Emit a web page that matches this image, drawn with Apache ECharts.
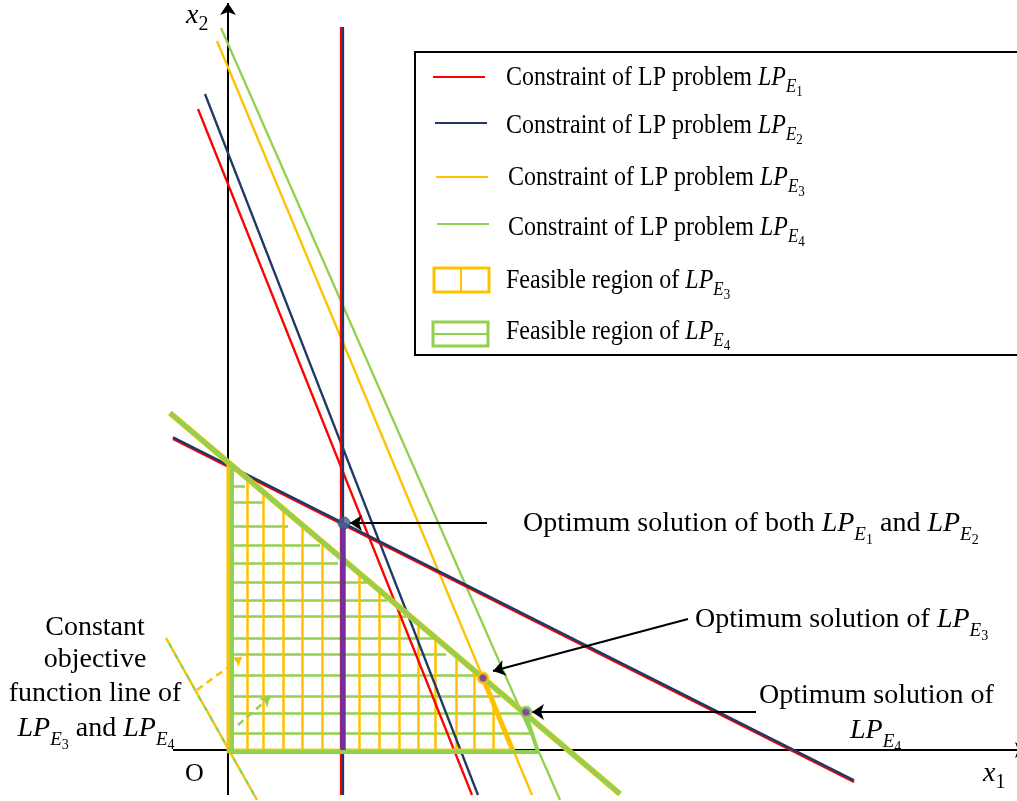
<!DOCTYPE html>
<html><head><meta charset="utf-8">
<script src="https://cdn.jsdelivr.net/npm/echarts@6/dist/echarts.min.js"></script>
<style>html,body{margin:0;padding:0;background:#fff}#c{width:1017px;height:801px}</style>
</head><body><div id="c"></div>
<script>
// ---- data (x1, x2 units; origin O) ----
const xAxisLine = [[-2.75, 0], [39.95, 0]];
const yAxisLine = [[0, -2.25], [0, 37.35]];
const e1Steep = [[-1.5, 32.05], [12.2, -2.25]];
const e2Steep = [[-1.15, 32.8], [12.5, -2.25]];
const e3Steep = [[-0.55, 35.45], [15.2, -2.25]];
const e4Steep = [[-0.35, 36.1], [16.6, -2.5]];
const e1Vertical = [[5.65, 36.15], [5.65, -2.25]];
const e2Vertical = [[5.72, 36.15], [5.72, -2.25]];
const e1Shallow = [[-2.75, 15.55], [31.3, -1.6]];
const e2Shallow = [[-2.75, 15.63], [31.3, -1.52]];
const e34Shallow = [[-2.9, 16.85], [19.6, -2.2]];
const region3Edge = [[12.75, 3.6], [14.25, -0.05], [0.05, -0.05], [0.05, 14.35]];
const region4Edge = [[14.85, 1.9], [15.5, -0.1], [0.2, -0.1], [0.2, 14.2]];
const purpleSeg = [[5.75, 11.35], [5.75, 0]];
const opt12 = [5.8, 11.35];
const opt3 = [12.75, 3.6];
const opt4 = [14.9, 1.9];
const arrow12 = [[12.95, 11.35], [6.1, 11.35]];
const arrow3 = [[23.0, 6.55], [13.25, 3.95]];
const arrow4 = [[26.4, 1.9], [15.2, 1.9]];
const objLine = [[-3.1, 5.6], [1.45, -2.5]];
const dirE3 = [[-1.55, 3.0], [0.7, 4.65]];
const dirE4 = [[0.5, 1.25], [2.1, 2.65]];
// yellow vertical hatch (feasible region of LP_E3)
const hatch3X = [0.95, 1.75, 2.75, 3.7, 4.7, 5.7, 6.55, 7.55, 8.55, 9.5, 10.35, 11.4, 12.3, 13.25];
const hatch3Top = [13.6, 12.9, 12.05, 11.25, 10.45, 9.65, 8.85, 8.0, 7.2, 6.35, 5.65, 4.75, 4.0, 2.4];
// green horizontal hatch (feasible region of LP_E4)
const hatch4Y = [13.2, 12.4, 11.2, 10.25, 9.35, 8.4, 7.5, 6.7, 5.6, 4.8, 3.75, 2.7, 1.85, 0.85];
const hatch4End = [0.85, 1.75, 3.0, 4.6, 5.5, 6.95, 7.95, 9.15, 10.5, 10.9, 12.6, 13.6, 14.95, 15.1];
const hatchStart = 0.25;

// ---- colours ----
const RED = '#FF0000', NAVY = '#203864', YEL = '#FFC000', GRN = '#92D050', PUR = '#7030A0';

function ln(list, color, width, z, extra) {
  extra = extra || {};
  return {
    type: 'lines', coordinateSystem: 'cartesian2d', polyline: list[0].length > 2, silent: true,
    animation: false, clip: false, z: z,
    data: list.map(c => ({ coords: c })),
    lineStyle: { color: color, width: width, opacity: 1, curveness: 0, type: extra.dash || 'solid', dashOffset: extra.dashOffset || 0, cap: 'butt', join: 'round' },
    symbol: extra.symbol || 'none', symbolSize: extra.symbolSize || 10
  };
}

const hatch3 = hatch3X.map((x, i) => [[x, 0], [x, hatch3Top[i]]]);
const hatch4 = hatch4Y.map((y, i) => [[hatchStart, y], [hatch4End[i], y]]);

const series = [
  ln(hatch4, GRN, 2.5, 2),
  ln(hatch3, YEL, 2.5, 3),
  ln([e1Steep], RED, 2.3, 4), ln([e2Steep], NAVY, 2.3, 4),
  ln([e3Steep], YEL, 2.3, 4), ln([e4Steep], GRN, 2.3, 4),
  ln([e1Vertical], RED, 2.3, 4), ln([e2Vertical], NAVY, 2.3, 4),
  ln([e1Shallow], RED, 2.5, 4), ln([e2Shallow], NAVY, 2.5, 4),
  ln([xAxisLine], '#000', 2, 3, { symbol: ['none', 'arrow'], symbolSize: 12 }),
  ln([yAxisLine], '#000', 2, 3, { symbol: ['none', 'arrow'], symbolSize: 12 }),
  ln([region3Edge], YEL, 5, 5),
  ln([region4Edge], GRN, 4, 6),
  ln([e34Shallow], YEL, 6, 5),
  ln([e34Shallow], GRN, 4.5, 6),
  ln([purpleSeg], PUR, 5.5, 7),
  ln([objLine], YEL, 2.5, 5, { dash: [6, 6] }),
  ln([objLine], GRN, 2.5, 5, { dash: [6, 6], dashOffset: 6 }),
  ln([dirE3], YEL, 2.5, 5, { dash: [7, 5], symbol: ['none', 'arrow'], symbolSize: 9 }),
  ln([dirE4], GRN, 2.5, 5, { dash: [7, 5], symbol: ['none', 'arrow'], symbolSize: 9 }),
  ln([arrow12, arrow3, arrow4], '#000', 2.2, 8, { symbol: ['none', 'arrow'], symbolSize: 12 }),
  { type: 'scatter', silent: true, animation: false, z: 9, data: [opt12], symbolSize: 12,
    itemStyle: { color: '#44618F', borderColor: '#2E4A75', borderWidth: 1 } },
  { type: 'scatter', silent: true, animation: false, z: 9, data: [opt3], symbolSize: 10,
    itemStyle: { color: PUR, borderColor: YEL, borderWidth: 3 } },
  { type: 'scatter', silent: true, animation: false, z: 9, data: [opt4], symbolSize: 10,
    itemStyle: { color: PUR, borderColor: GRN, borderWidth: 3 } }
];

// ---- text with sub/sub-subscripts ----
const FONT = '"Liberation Serif", "Times New Roman", serif';
const mctx = document.createElement('canvas').getContext('2d');
function mtext(parts, x, y, opt) {
  opt = opt || {};
  let cx = 0; const kids = [];
  parts.forEach(p => {
    const [t, size, italic, dy] = p;
    mctx.font = (italic ? 'italic ' : '') + size + 'px ' + FONT;
    const w = mctx.measureText(t).width;
    kids.push({ type: 'text', x: cx, y: (dy || 0) - 0.3375 * size, silent: true, z: 30,
      style: { text: t, fontSize: size, fontFamily: FONT, fontStyle: italic ? 'italic' : 'normal',
        fill: '#000', textAlign: 'left', verticalAlign: 'middle' } });
    cx += w;
  });
  const off = opt.center ? -cx / 2 : 0;
  kids.forEach(k => { k.x += off; });
  return { type: 'group', x: x, y: y, scaleX: opt.sx || 1, scaleY: opt.sy || 1, children: kids, z: 30 };
}
function LP(n, big) {
  if (big) return [['LP', 28, true, 0], ['E', 19, true, 8], [String(n), 14, false, 12]];
  return [['LP', 24, true, 0], ['E', 17, true, 5.5], [String(n), 13, false, 9]];
}
const legLabels = ['Constraint of LP problem ', 'Constraint of LP problem ', 'Constraint of LP problem ', 'Constraint of LP problem ', 'Feasible region of ', 'Feasible region of '];
const legSub = [1, 2, 3, 4, 3, 4];
const legPos = [[506, 87], [506, 135], [508, 187], [508, 237], [506, 290], [506, 341]];

const graphics = [];
graphics.push({ type: 'rect', shape: { x: 415, y: 52, width: 620, height: 303 }, style: { fill: '#fff', stroke: '#000', lineWidth: 2 }, z: 15, silent: true });
const legLineColors = [RED, NAVY, YEL, GRN];
const legLineY = [77, 123, 177, 224];
const legLineX = [433, 435, 436, 437];
legLineColors.forEach((c, i) => graphics.push({ type: 'line', shape: { x1: legLineX[i], y1: legLineY[i], x2: legLineX[i] + 52, y2: legLineY[i] }, style: { stroke: c, lineWidth: 2 }, z: 16, silent: true }));
graphics.push({ type: 'rect', shape: { x: 434, y: 268, width: 55, height: 24 }, style: { fill: 'none', stroke: YEL, lineWidth: 3 }, z: 16, silent: true });
graphics.push({ type: 'line', shape: { x1: 461, y1: 268, x2: 461, y2: 292 }, style: { stroke: YEL, lineWidth: 2 }, z: 16, silent: true });
graphics.push({ type: 'rect', shape: { x: 433, y: 322, width: 55, height: 24 }, style: { fill: 'none', stroke: GRN, lineWidth: 3 }, z: 16, silent: true });
graphics.push({ type: 'line', shape: { x1: 433, y1: 334, x2: 488, y2: 334 }, style: { stroke: GRN, lineWidth: 2 }, z: 16, silent: true });
legLabels.forEach((t, i) => graphics.push(mtext([[t, 24, false, 0]].concat(LP(legSub[i], false)), legPos[i][0], legPos[i][1], { sy: 1.12 })));

graphics.push(mtext([['Optimum solution of both ', 28, false, 0]].concat(LP(1, true), [[' and ', 28, false, 0]], LP(2, true)), 523, 533));
graphics.push(mtext([['Optimum solution of ', 28, false, 0]].concat(LP(3, true)), 695, 629));
graphics.push(mtext([['Optimum solution of', 28, false, 0]], 759, 705));
graphics.push(mtext(LP(4, true), 850, 740));
graphics.push(mtext([['Constant', 28, false, 0]], 95, 637, { center: true }));
graphics.push(mtext([['objective', 28, false, 0]], 95, 669, { center: true }));
graphics.push(mtext([['function line of', 28, false, 0]], 95, 703, { center: true }));
graphics.push(mtext(LP(3, true).concat([[' and ', 28, false, 0]], LP(4, true)), 96, 738, { center: true }));
graphics.push(mtext([['x', 28, true, 0], ['2', 20, false, 6]], 186, 25));
graphics.push(mtext([['x', 28, true, 0], ['1', 20, false, 6]], 983, 783));
graphics.push(mtext([['O', 26, false, 0]], 185, 783));

const chart = echarts.init(document.getElementById('c'), null, { renderer: 'canvas' });
chart.setOption({
  animation: false,
  backgroundColor: '#fff',
  grid: { left: 0, right: 0, top: 0, bottom: 0 },
  xAxis: { type: 'value', min: -11.4, max: 39.45, show: false },
  yAxis: { type: 'value', min: -2.55, max: 37.5, show: false },
  series: series,
  graphic: { elements: graphics }
});
</script></body></html>
